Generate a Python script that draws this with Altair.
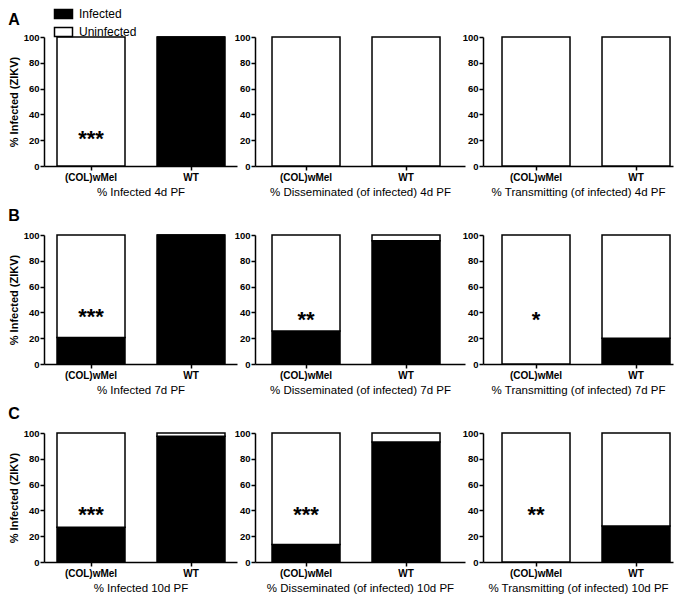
import altair as alt
import pandas as pd

FONT = "Liberation Sans"

categories = ["(COL)wMel", "WT"]
statuses = ["Infected", "Uninfected"]

# % infected (black part) per panel, [COL, WT]
infected_4d = [0, 100]
disseminated_4d = [0, 0]
transmitting_4d = [0, 0]
infected_7d = [20.5, 100]
disseminated_7d = [25.5, 95.5]
transmitting_7d = [0, 20]
infected_10d = [27, 97.5]
disseminated_10d = [13.5, 93]
transmitting_10d = [0, 28]

panel_titles = [
    ["% Infected 4d PF", "% Disseminated (of infected) 4d PF", "% Transmitting (of infected) 4d PF"],
    ["% Infected 7d PF", "% Disseminated (of infected) 7d PF", "% Transmitting (of infected) 7d PF"],
    ["% Infected 10d PF", "% Disseminated (of infected) 10d PF", "% Transmitting (of infected) 10d PF"],
]
panel_values = [
    [infected_4d, disseminated_4d, transmitting_4d],
    [infected_7d, disseminated_7d, transmitting_7d],
    [infected_10d, disseminated_10d, transmitting_10d],
]
# significance marks above the (COL)wMel bar
sig_text = [["***", "", ""], ["***", "**", "*"], ["***", "***", "**"]]
sig_y = [[25, 0, 0], [40, 38, 38], [40, 40, 40]]
row_letters = ["A", "B", "C"]

widths = [193, 210, 190]
pad_outer = [0.125, 0.21, 0.11]
aligns = [0.52, 0.405, 0.864]
H = 129


def panel(r, c):
    vals = panel_values[r][c]
    rows = []
    for i, g in enumerate(categories):
        rows.append({"group": g, "status": "Infected", "value": vals[i], "ord": 0})
        rows.append({"group": g, "status": "Uninfected", "value": 100 - vals[i], "ord": 1})
    df = pd.DataFrame(rows)

    if r == 0 and c == 0:
        legend = alt.Legend(
            orient="none", legendX=13.5, legendY=-29, title=None,
            symbolType="M-2,-1L2,-1L2,1L-2,1Z", symbolSize=81,
            symbolStrokeColor="black", symbolStrokeWidth=1.5,
            labelFont=FONT, labelFontSize=12, labelColor="black",
            labelOffset=9.5, rowPadding=2, padding=0,
        )
    else:
        legend = None

    def yaxis():
        return alt.Axis(
            values=[0, 20, 40, 60, 80, 100], grid=False, labelOverlap=False,
            labelFont=FONT, labelFontSize=9.5, labelFontWeight="bold", labelColor="black",
            labelPadding=1, tickSize=4, tickWidth=1.5, tickColor="black",
            domainColor="black", domainWidth=1.5,
            title="% Infected (ZIKV)" if c == 0 else None,
            titleFont=FONT, titleFontSize=11, titleFontWeight="bold", titleColor="black",
            titlePadding=4,
        )

    def xaxis():
        return alt.Axis(
            labelAngle=0, labelFont=FONT, labelFontSize=10, labelFontWeight="bold",
            labelColor="black", labelPadding=2, tickSize=4, tickWidth=1.5,
            tickColor="black", domainColor="black", domainWidth=1.5,
            title=panel_titles[r][c], titleFont=FONT, titleFontSize=11.5,
            titleFontWeight="normal", titleColor="black", titlePadding=4,
        )

    def xscale():
        return alt.Scale(domain=categories, paddingInner=0.32,
                         paddingOuter=pad_outer[c], align=aligns[c])

    def yscale():
        return alt.Scale(domain=[0, 100], nice=False)

    bars = alt.Chart(df).mark_bar(stroke="black", strokeWidth=1.5).encode(
        x=alt.X("group:N", sort=categories, scale=xscale(), axis=xaxis()),
        y=alt.Y("value:Q", stack="zero", scale=yscale(), axis=yaxis()),
        color=alt.Color("status:N",
                        scale=alt.Scale(domain=statuses, range=["black", "white"]),
                        legend=legend),
        order=alt.Order("ord:Q"),
    )
    sdf = pd.DataFrame({"group": [categories[0]], "y": [sig_y[r][c]], "sig": [sig_text[r][c]]})
    stars = alt.Chart(sdf).mark_text(
        font=FONT, fontSize=22, fontWeight="bold", color="black", dy=5
    ).encode(
        x=alt.X("group:N", sort=categories, scale=xscale(), axis=xaxis()),
        y=alt.Y("y:Q", scale=yscale(), axis=yaxis()),
        text="sig:N",
    )
    title_text = row_letters[r] if c == 0 else " "
    return alt.layer(bars, stars).properties(
        width=widths[c], height=H,
        title=alt.Title(title_text, anchor="start", frame="bounds", font=FONT,
                        fontSize=16, fontWeight="bold", color="black", offset=6,
                        dy=26 if r == 0 else 0),
    )


panels = [panel(r, c) for r in range(3) for c in range(3)]

chart = (
    alt.concat(*panels, columns=3, spacing={"row": 69, "column": 18}, bounds="flush")
    .resolve_scale(color="independent")
    .properties(padding={"left": 0, "top": 0, "right": 2, "bottom": 2}, background="white")
    .configure_view(stroke=None)
)

chart.save("out.html", embed_options={"renderer": "svg", "actions": False})
